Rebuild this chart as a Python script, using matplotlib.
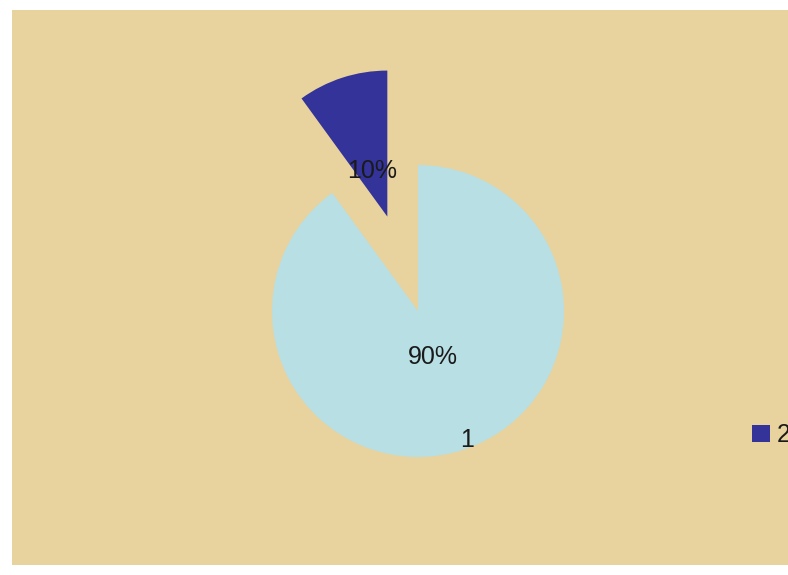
import matplotlib
matplotlib.use('Agg')
import matplotlib.pyplot as plt
from matplotlib.patches import Rectangle

# data
categories = ['1', '2']
shares = [90, 10]
slice_labels = ['1', '']      # only the big slice carries its category name
explode = [0, 0.68]
colors = ['#b7dfe4', '#333399']

plt.rcParams['font.family'] = ['Liberation Sans', 'DejaVu Sans']

W, H = 788, 575
fig = plt.figure(figsize=(W / 100, H / 100), dpi=100, facecolor='white')

# papyrus-coloured panel with a thin white margin (behind everything)
fig.patches.append(Rectangle((12 / W, 10 / H), (W - 12) / W, (H - 20) / H,
                             transform=fig.transFigure, facecolor='#e8d29d',
                             edgecolor='none', zorder=-10))

ax = fig.add_axes([0, 0, 1, 1])
ax.patch.set_visible(False)

wedges, texts, autotexts = ax.pie(shares, labels=slice_labels, explode=explode,
                                  colors=colors, startangle=90, counterclock=False,
                                  autopct='%1.0f%%', pctdistance=0.33,
                                  labeldistance=0.93,
                                  wedgeprops=dict(linewidth=0),
                                  textprops=dict(fontsize=18, color='#1a1a1a'))

# pie centre at (418, 311) px from top-left, radius 146 px
r = 146
cx, cy = 418, H - 311
ax.set_xlim(-cx / r, (W - cx) / r)
ax.set_ylim(-cy / r, (H - cy) / r)
ax.set_aspect('equal')
ax.axis('off')

leg = ax.legend([wedges[1]], [categories[1]], loc='center left',
                bbox_to_anchor=(752 / W, 1 - 435 / H), bbox_transform=fig.transFigure,
                frameon=False, fontsize=18, handlelength=0.7, handleheight=0.7,
                handletextpad=0.3, borderpad=0, borderaxespad=0)
for t in leg.get_texts():
    t.set_color('#1a1a1a')

fig.savefig('out.png', dpi=100, facecolor='white')
